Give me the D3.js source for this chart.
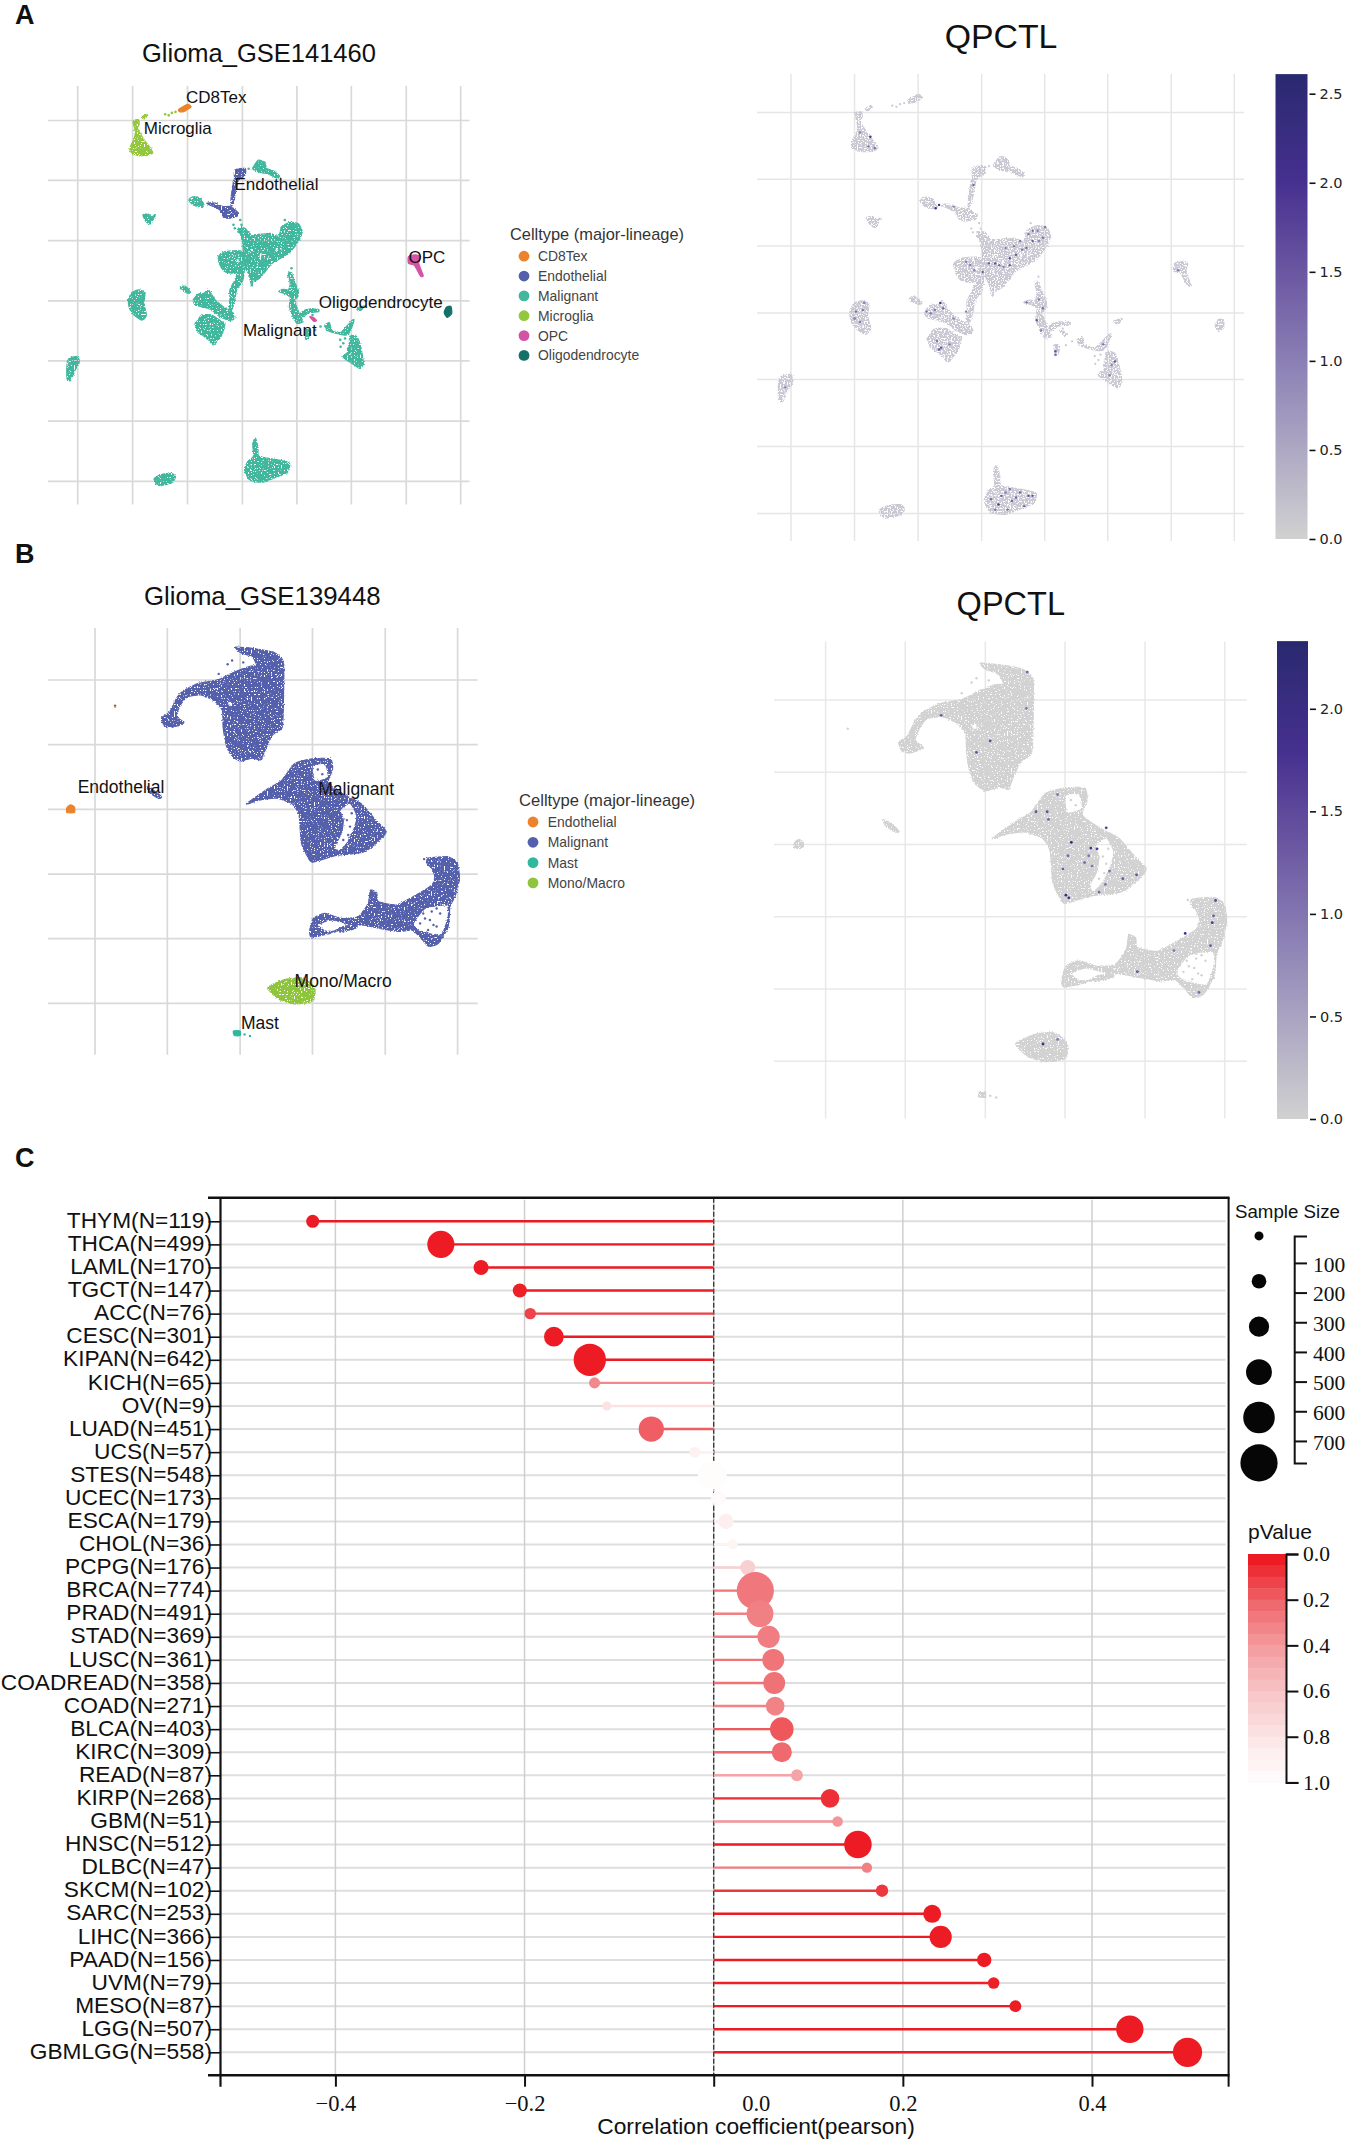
<!DOCTYPE html>
<html>
<head>
<meta charset="utf-8">
<script src="https://cdnjs.cloudflare.com/ajax/libs/d3/7.8.5/d3.min.js"></script>
<style>
body { margin: 0; background: #fff; }
text { font-family: "Liberation Sans", Arial, sans-serif; fill: #111; }
.serif text, text.serif { font-family: "Liberation Serif", "Times New Roman", serif; }
.dv { font-family: "DejaVu Sans", sans-serif; }
</style>
</head>
<body>
<svg id="fig" width="1352" height="2145" xmlns="http://www.w3.org/2000/svg"></svg>
<script>
// ---- panel C values ----
var cancerNames = ['THYM','THCA','LAML','TGCT','ACC','CESC','KIPAN','KICH','OV','LUAD','UCS','STES','UCEC','ESCA','CHOL','PCPG','BRCA','PRAD','STAD','LUSC','COADREAD','COAD','BLCA','KIRC','READ','KIRP','GBM','HNSC','DLBC','SKCM','SARC','LIHC','PAAD','UVM','MESO','LGG','GBMLGG'];
var sampleSizes = [119,499,170,147,76,301,642,65,9,451,57,548,173,179,36,176,774,491,369,361,358,271,403,309,87,268,51,512,47,102,253,366,156,79,87,507,558];
var corrValues = [-0.424,-0.2885,-0.246,-0.205,-0.194,-0.169,-0.131,-0.126,-0.113,-0.066,-0.02,-0.0015,0.005,0.013,0.02,0.036,0.044,0.049,0.058,0.063,0.064,0.065,0.072,0.072,0.088,0.123,0.131,0.1525,0.162,0.178,0.231,0.24,0.286,0.296,0.319,0.44,0.501];
var pValues = [0,0,0,0.01,0.1,0,0,0.31,0.76,0.17,0.88,0.97,0.95,0.86,0.9,0.65,0.25,0.28,0.27,0.24,0.23,0.29,0.15,0.2,0.42,0.05,0.36,0,0.28,0.07,0,0,0,0.01,0.003,0,0];
var corrTicks = [-0.4,-0.2,0,0.2,0.4];
var sizeTicks = [100,200,300,400,500,600,700];
var sizeLegend = [9,162,315,468,621,774];
var pTicks = [0,0.2,0.4,0.6,0.8,1];
var pStops = [0,0.2,0.4,0.6,0.8,1];
var pStopColors = ['#ed1c24','#ee6a6f','#f4a0a3','#f8c8ca','#fce8e9','#ffffff'];

// ---- umap colour bars ----
var exprStops = [0,0.38,0.58,0.77,1];
var exprStopColors = ['#d1d1d1','#8b80b5','#6a55a1','#46308f','#29296f'];
var exprTicksA = [0,0.5,1,1.5,2,2.5];
var exprTicksB = [0,0.5,1,1.5,2];

// ---- GSE141460 embedding, outlines of the cell clouds (arbitrary umap units) ----
var gridXA = [174,297,420,543,665,787,910,1032];
var gridYA = [350,524,699,874,1048,1223,1398];
var malignantA = [
  [[566,489],[579,465],[594,472],[597,489],[612,496],[626,511],[621,518],[601,505],[582,501]],
  [[423,581],[433,571],[448,576],[457,595],[452,602],[433,595]],
  [[320,624],[332,622],[340,630],[348,625],[344,635],[338,650],[328,645]],
  [[534,663],[549,663],[564,682],[605,678],[624,687],[631,658],[650,646],[668,650],[677,673],[668,702],[650,731],[635,745],[609,765],[594,789],[582,808],[567,818],[564,830],[556,794],[545,770],[541,760],[545,726],[541,692]],
  [[489,745],[504,731],[534,728],[544,736],[545,770],[541,779],[526,794],[504,789],[493,770]],
  [[534,789],[547,779],[544,813],[530,842],[526,871],[519,900],[514,900],[515,866],[515,842],[526,813]],
  [[403,834],[414,831],[427,847],[422,852],[409,844]],
  [[433,871],[444,854],[459,852],[467,842],[482,871],[500,891],[523,910],[526,924],[515,931],[493,920],[474,900],[452,891],[437,886]],
  [[441,934],[452,915],[474,915],[497,934],[504,939],[497,973],[478,1002],[467,987],[444,963],[437,939]],
  [[295,850],[310,842],[325,850],[322,880],[328,915],[318,930],[300,915],[290,895],[288,870]],
  [[155,1040],[175,1035],[177,1055],[168,1075],[158,1105],[150,1100],[150,1060]],
  [[646,794],[653,792],[659,818],[668,842],[667,862],[659,871],[663,886],[673,920],[679,934],[665,939],[653,910],[648,891],[650,862],[638,852],[624,847],[635,840],[646,842],[650,823]],
  [[673,910],[687,898],[713,898],[713,905],[691,908],[679,920]],
  [[683,963],[688,956],[694,963],[691,982],[685,985]],
  [[728,944],[738,937],[743,958],[762,966],[773,953],[790,929],[793,931],[784,963],[773,973],[747,966],[732,958]],
  [[784,976],[799,978],[808,1007],[814,1055],[806,1070],[788,1055],[768,1036],[780,1021]],
  [[799,895],[815,889],[810,900],[803,902]],
  [[566,1290],[572,1272],[578,1300],[580,1325],[620,1335],[648,1345],[645,1370],[620,1385],[590,1400],[560,1395],[548,1365],[555,1340],[568,1325]],
  [[345,1390],[360,1378],[385,1375],[393,1385],[385,1402],[360,1410],[350,1405]]
];
var malignantHolesA = [
  [[582,735],[588,735],[585,748],[580,746]],
  [[616,720],[622,718],[623,726],[618,730]],
  [[563,722],[568,722],[567,732],[563,732]],
  [[599,742],[603,742],[602,751],[599,751]],
  [[630,718],[634,720],[632,730],[629,727]],
  [[529,752],[536,752],[535,765],[529,762]]
];
var endothelialA = [
  [[526,494],[549,489],[549,508],[534,523],[526,523]],
  [[524,523],[532,523],[524,581],[521,595],[517,595],[519,561]],
  [[463,590],[482,590],[500,600],[517,600],[534,619],[530,629],[511,634],[500,629],[493,610],[478,600]]
];
var microgliaA = [
  [[298,350],[310,348],[312,360],[308,372],[315,390],[325,410],[337,430],[342,445],[325,452],[305,450],[292,440],[292,425],[300,405],[303,385],[300,365]],
  [[318,340],[328,332],[331,337],[322,345]]
];
var cd8texA = [[[400,318],[420,303],[428,310],[415,322],[403,325]]];
var opcA = [
  [[915,745],[930,740],[942,745],[938,765],[948,800],[942,802],[928,770],[915,765]],
  [[694,920],[702,922],[709,931],[703,933]]
];
var oligoA = [[[1000,892],[1010,890],[1012,910],[1002,922],[995,908]]];
var malignantDotsA = [[523,653],[526,663],[538,639],[541,653],[534,673],[638,639],[653,779],[564,828],[632,842],[762,987],[769,997],[773,983],[763,1007],[780,1012],[735,950],[700,915],[557,490],[570,1285],[345,628],[718,948],[706,958]];
var microgliaDotsA = [[370,332],[378,335],[385,328],[393,325]];

// ---- GSE139448 embedding ----
var gridXB = [213,375,538,700,863,1025];
var gridYB = [366,535,704,873,1042,1211];
var malignantB = [
  [[528,280],[575,285],[615,295],[635,320],[635,420],[632,490],[610,510],[590,560],[585,575],[565,570],[540,578],[520,565],[508,540],[500,490],[498,445],[480,420],[450,405],[420,410],[405,430],[395,460],[412,478],[385,490],[368,485],[362,465],[380,450],[395,415],[410,395],[445,375],[490,365],[525,345],[560,330],[575,328],[565,305],[540,295]],
  [[552,690],[600,650],[630,630],[660,585],[700,572],[740,572],[745,600],[735,635],[770,665],[810,690],[840,730],[865,762],[845,790],[815,815],[770,822],[750,825],[700,842],[688,825],[675,790],[670,720],[655,690],[620,675],[580,680]],
  [[959,832],[1004,828],[1024,845],[1029,884],[1019,932],[1008,958],[1004,1010],[982,1054],[959,1061],[941,1037],[922,1019],[896,1023],[851,1015],[810,1006],[769,1010],[739,1028],[698,1037],[694,1019],[702,989],[728,976],[765,989],[803,984],[825,949],[830,915],[844,923],[847,945],[888,954],[926,932],[967,902],[974,880],[967,858],[956,845]]
];
var malignantHolesB = [
  [[700,590],[728,585],[735,620],[705,630]],
  [[762,706],[784,688],[799,719],[795,749],[777,793],[758,814],[750,801],[765,766],[769,732]],
  [[713,1006],[743,993],[799,1010],[784,1019],[735,1023],[724,1019]],
  [[926,1002],[952,963],[1000,954],[1004,984],[989,1032],[959,1028],[937,1019]],
  [[510,424],[520,422],[521,434],[512,434]]
];
var endothelialStripB = [[[330,645],[345,655],[362,672],[355,675],[335,660]]];
var endothelialB = [[[150,700],[158,692],[167,698],[167,712],[150,712]]];
var monoB = [[[600,1170],[640,1148],[680,1145],[705,1170],[700,1205],[660,1212],[625,1200]]];
var mastB = [[[523,1283],[538,1283],[538,1295],[525,1295]]];
var malignantDotsB = [[258,433],[520,315],[545,320],[510,325],[490,350],[555,345],[950,834],[941,1002],[952,989],[963,993],[971,1006],[959,1019],[978,1010],[948,976],[986,976],[967,971],[978,963],[750,1023],[762,1023],[769,1023],[777,732],[784,749],[769,784],[773,801],[788,714],[780,771],[712,600],[722,612]];
var mastDotsB = [[548,1292],[560,1296]];
var endoDotsB = [[258,436]];

// ---- cells with visible QPCTL, [x, y, expression] ----
var exprGridXA = [219,372,524,676,828,980,1132,1285];
var exprGridYA = [327,521,714,909,1103,1297,1491];
var exprCellsA = [[410,397,2],[420,430,1.3],[385,385,1],[405,425,1.2],[658,537,1.3],[575,595,2],[567,605,2],[610,600,1],[790,680,1.2],[800,700,1.4],[812,670,1],[830,660,1.2],[825,690,1.3],[785,720,1.2],[760,740,1.4],[745,750,1.6],[735,720,1],[775,725,1.2],[710,765,1.6],[695,765,1.5],[680,790,1.3],[720,770,1.2],[745,770,1.4],[770,700,1.1],[800,670,1.3],[815,700,1],[755,715,1.1],[730,775,1],[640,760,1],[650,770,1.1],[660,785,1],[578,880,1.9],[585,895,1.3],[545,905,1.2],[555,910,1.2],[565,900,1.1],[610,925,1],[580,1010,1.5],[575,1015,1.5],[600,1000,1],[570,990,1.1],[640,905,1],[375,905,1.2],[392,900,1.1],[385,935,1],[395,880,1],[372,925,1.1],[815,870,1],[825,895,1.2],[810,930,1.5],[820,960,1],[855,1020,1.6],[855,1030,1.3],[785,878,1.2],[970,1000,1.2],[998,1050,1.5],[990,1060,1],[985,1090,1],[718,1465,2],[790,1440,1.6],[770,1430,1.4],[745,1420,1.2],[725,1440,1.5],[700,1450,1.2],[750,1455,1.4],[780,1470,1.3],[740,1480,1.2],[800,1440,1.5],[760,1445,1.3],[710,1480,1.2],[735,1430,1.1],[1150,785,1.1],[205,1125,1]];
var exprGridXB = [302,494,686,878,1070,1262];
var exprGridYB = [418,606,795,985,1173,1362];
var exprCellsB = [[787,345,1.2],[785,440,1],[580,458,1.3],[698,525,1.5],[665,555,1.4],[893,790,2.2],[940,805,1.8],[955,807,1.7],[977,752,1.6],[808,710,1.4],[835,710,1.4],[838,730,1.2],[860,665,1],[1050,875,1.4],[1017,885,1.3],[985,865,1.1],[880,928,2],[887,935,2],[975,900,1],[960,920,1.2],[873,860,1.3],[885,825,1.1],[925,843,1.2],[943,852,1],[935,825,1],[1240,942,1.5],[1235,982,1.3],[1232,1000,1.7],[1167,1028,1.9],[1228,1060,1.3],[1140,1073,1],[1052,1128,1.4],[1200,1182,1.2],[825,1317,2],[860,1305,1]];

// ---- legends ----
var celltypesA = ['CD8Tex','Endothelial','Malignant','Microglia','OPC','Oligodendrocyte'];
var celltypeColorsA = ['#ea8329','#5560ad','#41b89e','#93c83d','#d353a5','#15706a'];
var celltypesB = ['Endothelial','Malignant','Mast','Mono/Macro'];
var celltypeColorsB = ['#ea8329','#5560ad','#2fb89c','#8fc53d'];

var svg = d3.select('#fig');
var defs = svg.append('defs');

// rough edge and small gaps of the cloud outlines, so they read as packed dots
function addStipple(id, cut) {
    var f = defs.append('filter').attr('id', id).attr('x', '-5%').attr('y', '-5%')
        .attr('width', '110%').attr('height', '110%')
        .attr('color-interpolation-filters', 'sRGB');
    f.append('feTurbulence').attr('type', 'fractalNoise').attr('baseFrequency', 0.7)
        .attr('numOctaves', 1).attr('seed', 4).attr('result', 'n');
    f.append('feDisplacementMap').attr('in', 'SourceGraphic').attr('in2', 'n')
        .attr('scale', 3).attr('xChannelSelector', 'R').attr('yChannelSelector', 'G').attr('result', 'd');
    f.append('feColorMatrix').attr('in', 'n').attr('type', 'matrix')
        .attr('values', '0 0 0 0 0 0 0 0 0 0 0 0 0 0 0 0 0 0 -14 ' + (14 * cut)).attr('result', 'm');
    f.append('feComposite').attr('in', 'd').attr('in2', 'm').attr('operator', 'in');
}
addStipple('stippleDense', 0.68);
addStipple('stippleLight', 0.6);

function gridScale(ticks, px0, px1) {
    return d3.scaleLinear().domain([ticks[0], ticks[ticks.length - 1]]).range([px0, px1]);
}

function drawGrid(g, x, y, xTicks, yTicks, xr, yr, color, w) {
    g.selectAll('line.v').data(xTicks).enter().append('line').attr('class', 'v')
        .attr('x1', x).attr('x2', x).attr('y1', yr[0]).attr('y2', yr[1]);
    g.selectAll('line.h').data(yTicks).enter().append('line').attr('class', 'h')
        .attr('x1', xr[0]).attr('x2', xr[1]).attr('y1', y).attr('y2', y);
    g.selectAll('line').attr('stroke', color).attr('stroke-width', w);
}

// solids wind one way and holes the other, so overlapping solids stay filled
function orient(ring, sign) {
    return d3.polygonArea(ring) * sign < 0 ? ring.slice().reverse() : ring;
}

function drawClouds(g, x, y, rings, color, filter, holes) {
    var line = d3.line().x(function (d) { return x(d[0]); }).y(function (d) { return y(d[1]); })
        .curve(d3.curveCardinalClosed.tension(0.4));
    var parts = rings.map(function (r) { return line(orient(r, 1)); })
        .concat((holes || []).map(function (r) { return line(orient(r, -1)); }));
    g.append('path')
        .attr('d', parts.join(' '))
        .attr('fill', color).attr('fill-rule', 'nonzero')
        .attr('stroke', color).attr('stroke-width', 1.2)
        .attr('filter', filter ? 'url(#' + filter + ')' : null);
}

function drawDots(g, x, y, pts, color, r) {
    g.selectAll(null).data(pts).enter().append('circle')
        .attr('cx', function (d) { return x(d[0]); })
        .attr('cy', function (d) { return y(d[1]); })
        .attr('r', r)
        .attr('fill', typeof color === 'function' ? function (d) { return color(d[2]); } : color);
}

function drawTitle(txt, x, y, size, cls) {
    svg.append('text').attr('x', x).attr('y', y).attr('font-size', size)
        .attr('class', cls || null).text(txt);
}

function drawLegend(names, colors, title, titleSize, tx, ty, cx, lx, ys) {
    var g = svg.append('g');
    g.append('text').attr('x', tx).attr('y', ty).attr('font-size', titleSize).style('fill', '#333').text(title);
    g.selectAll('circle').data(names).enter().append('circle')
        .attr('cx', cx).attr('cy', function (d, i) { return ys(i); }).attr('r', 5.4)
        .attr('fill', function (d, i) { return colors[i]; });
    g.selectAll('text.item').data(names).enter().append('text').attr('class', 'item')
        .attr('x', lx).attr('y', function (d, i) { return ys(i) + 5; })
        .attr('font-size', 13.9).style('fill', '#444').text(function (d) { return d; });
}

var exprColor = d3.scaleLinear().domain(exprStops).range(exprStopColors);

function drawExprBar(id, x0, x1, y, top, ticks) {
    var grad = defs.append('linearGradient').attr('id', id).attr('x1', 0).attr('x2', 0).attr('y1', 1).attr('y2', 0);
    grad.selectAll('stop').data(exprStops).enter().append('stop')
        .attr('offset', function (d) { return d; })
        .attr('stop-color', function (d, i) { return exprStopColors[i]; });
    svg.append('rect').attr('x', x0).attr('width', x1 - x0).attr('y', y(top))
        .attr('height', y(0) - y(top)).attr('fill', 'url(#' + id + ')');
    var ax = svg.append('g').attr('transform', 'translate(' + x1 + ',0)')
        .call(d3.axisRight(y).tickValues(ticks).tickSize(7).tickPadding(5).tickFormat(d3.format('.1f')));
    ax.select('.domain').remove();
    ax.selectAll('.tick line').attr('x1', 2).attr('x2', 8).attr('stroke', '#111').attr('stroke-width', 1.6);
    ax.selectAll('text').attr('class', 'dv').attr('font-size', 14.5).attr('font-family', 'DejaVu Sans').style('fill', '#222');
}

// panel letters
drawTitle('A', 15, 24, 27);
drawTitle('B', 15, 563, 27);
drawTitle('C', 15, 1167, 27);
svg.selectAll('text').attr('font-weight', 'bold');

// ---- panel A ----
var ax1 = gridScale(gridXA, 77.7, 460.7), ay1 = gridScale(gridYA, 120.5, 481.4);
var gA1 = svg.append('g');
drawGrid(gA1.append('g'), ax1, ay1, gridXA, gridYA, [48, 469.6], [86, 504.5], '#d9d9d9', 1.7);
var cloudsA1 = gA1.append('g');
drawClouds(cloudsA1, ax1, ay1, malignantA, celltypeColorsA[2], 'stippleDense', malignantHolesA);
drawClouds(cloudsA1, ax1, ay1, endothelialA, celltypeColorsA[1], 'stippleDense');
drawClouds(cloudsA1, ax1, ay1, microgliaA, celltypeColorsA[3], 'stippleDense');
drawClouds(cloudsA1, ax1, ay1, cd8texA, celltypeColorsA[0]);
drawClouds(cloudsA1, ax1, ay1, opcA, celltypeColorsA[4]);
drawClouds(cloudsA1, ax1, ay1, oligoA, celltypeColorsA[5]);
drawDots(cloudsA1, ax1, ay1, malignantDotsA, celltypeColorsA[2], 1.3);
drawDots(cloudsA1, ax1, ay1, microgliaDotsA, celltypeColorsA[3], 1.3);

var labelsA = [['CD8Tex',186,103],['Microglia',143.8,133.6],['Endothelial',234.4,190.4],['OPC',408.5,263.4],['Oligodendrocyte',318.8,307.5],['Malignant',242.9,335.7]];
labelsA.forEach(function (l) { drawTitle(l[0], l[1], l[2], 17); });
drawTitle('Glioma_GSE141460', 142, 62, 25.5);
drawLegend(celltypesA, celltypeColorsA, 'Celltype (major-lineage)', 16.4, 510, 240, 524, 538,
    d3.scaleLinear().domain([0, 5]).range([256.2, 355.4]));

var ax2 = gridScale(gridXA, 791, 1234.3), ay2 = gridScale(gridYA, 112.6, 513.4);
var gA2 = svg.append('g');
drawGrid(gA2.append('g'), ax2, ay2, gridXA, gridYA, [757, 1243.9], [74, 541], '#e6e6e6', 1.5);
drawClouds(gA2, ax2, ay2, malignantA, '#c9c8d3', 'stippleLight', malignantHolesA);
[endothelialA, microgliaA, cd8texA, opcA, oligoA].forEach(function (rings) {
    drawClouds(gA2, ax2, ay2, rings, '#c9c8d3', 'stippleLight');
});
drawDots(gA2, ax2, ay2, malignantDotsA.concat(microgliaDotsA), '#c9c8d3', 1.1);
drawDots(gA2, gridScale(exprGridXA, 791, 1234.3), gridScale(exprGridYA, 112.6, 513.4), exprCellsA,
    function (v) { return exprColor(v / 2.6); }, 1.2);
svg.append('text').attr('x', 1001).attr('y', 48).attr('text-anchor', 'middle')
    .attr('font-size', 33.8).attr('font-family', 'DejaVu Sans').text('QPCTL');
drawExprBar('barA', 1275.5, 1307.5, d3.scaleLinear().domain([0, 2.5]).range([539, 93.7]), 2.61, exprTicksA);

// ---- panel B ----
var bx1 = gridScale(gridXB, 95, 457.6), by1 = gridScale(gridYB, 680, 1003.4);
var gB1 = svg.append('g');
drawGrid(gB1.append('g'), bx1, by1, gridXB, gridYB, [48, 477.7], [628, 1054.7], '#d9d9d9', 1.7);
var cloudsB1 = gB1.append('g');
drawClouds(cloudsB1, bx1, by1, malignantB.concat(endothelialStripB), celltypeColorsB[1], 'stippleDense', malignantHolesB);
drawClouds(cloudsB1, bx1, by1, monoB, celltypeColorsB[3], 'stippleDense');
drawClouds(cloudsB1, bx1, by1, mastB, celltypeColorsB[2]);
drawClouds(cloudsB1, bx1, by1, endothelialB, celltypeColorsB[0]);
drawDots(cloudsB1, bx1, by1, malignantDotsB, celltypeColorsB[1], 1.2);
drawDots(cloudsB1, bx1, by1, mastDotsB, celltypeColorsB[2], 1.2);
drawDots(cloudsB1, bx1, by1, endoDotsB, celltypeColorsB[0], 1.1);

var labelsB = [['Endothelial',77.7,792.6],['Malignant',318.3,794.9],['Mono/Macro',294.6,986.6],['Mast',241,1029]];
labelsB.forEach(function (l) { drawTitle(l[0], l[1], l[2], 17.5); });
drawTitle('Glioma_GSE139448', 144, 605, 25.8);
drawLegend(celltypesB, celltypeColorsB, 'Celltype (major-lineage)', 16.6, 519, 806, 533, 547.8,
    d3.scaleLinear().domain([0, 3]).range([822, 882.9]));

var bx2 = gridScale(gridXB, 825.6, 1224.7), by2 = gridScale(gridYB, 700, 1061.2);
var gB2 = svg.append('g');
drawGrid(gB2.append('g'), bx2, by2, gridXB, gridYB, [774, 1246.8], [641.4, 1118.6], '#e8e8e8', 1.5);
drawClouds(gB2, bx2, by2, malignantB.concat(endothelialStripB), '#d2d2d2', 'stippleDense', malignantHolesB);
[monoB, mastB, endothelialB].forEach(function (rings) {
    drawClouds(gB2, bx2, by2, rings, '#d2d2d2', 'stippleDense');
});
drawDots(gB2, bx2, by2, malignantDotsB.concat(mastDotsB), '#d2d2d2', 1.2);
drawDots(gB2, gridScale(exprGridXB, 825.6, 1224.7), gridScale(exprGridYB, 700, 1061.2), exprCellsB,
    function (v) { return exprColor(v / 2.33); }, 1.4);
svg.append('text').attr('x', 1010.8).attr('y', 614.6).attr('text-anchor', 'middle')
    .attr('font-size', 32.5).attr('font-family', 'DejaVu Sans').text('QPCTL');
drawExprBar('barB', 1277, 1308, d3.scaleLinear().domain([0, 2]).range([1119, 708.8]), 2.33, exprTicksB);

// ---- panel C ----
var rows = cancerNames.map(function (n, i) {
    return { label: n + '(N=' + sampleSizes[i] + ')', n: sampleSizes[i], r: corrValues[i], p: pValues[i] };
});
var xC = d3.scaleLinear().domain([-0.4, 0.4]).range([335.4, 1092]);
var yC = d3.scalePoint().domain(rows.map(function (d) { return d.label; })).range([1221.3, 2052.3]);
var sizeC = d3.scaleLinear().domain([9, 774]).range([4.5, 18.6]);
var pColor = d3.scaleLinear().domain(pStops).range(pStopColors);
var frame = { left: 220.5, right: 1228.6, top: 1197.7, bottom: 2075.3 };
var gC = svg.append('g');

gC.selectAll('line.hg').data(rows).enter().append('line').attr('class', 'hg')
    .attr('x1', frame.left).attr('x2', 1225.6)
    .attr('y1', function (d) { return yC(d.label); }).attr('y2', function (d) { return yC(d.label); })
    .attr('stroke', '#dedede').attr('stroke-width', 2);
gC.selectAll('line.vg').data(corrTicks).enter().append('line').attr('class', 'vg')
    .attr('x1', xC).attr('x2', xC).attr('y1', frame.top + 2).attr('y2', frame.bottom)
    .attr('stroke', '#cfcfcf').attr('stroke-width', 1.5);
gC.append('line').attr('x1', xC(0)).attr('x2', xC(0)).attr('y1', frame.top).attr('y2', frame.bottom)
    .attr('stroke', '#333').attr('stroke-width', 1.3).attr('stroke-dasharray', '5 2');
gC.selectAll('line.stem').data(rows).enter().append('line').attr('class', 'stem')
    .attr('x1', xC(0)).attr('x2', function (d) { return xC(d.r); })
    .attr('y1', function (d) { return yC(d.label); }).attr('y2', function (d) { return yC(d.label); })
    .attr('stroke', function (d) { return pColor(d.p); }).attr('stroke-width', 2.4);
gC.selectAll('circle.pt').data(rows).enter().append('circle').attr('class', 'pt')
    .attr('cx', function (d) { return xC(d.r); }).attr('cy', function (d) { return yC(d.label); })
    .attr('r', function (d) { return sizeC(d.n); })
    .attr('fill', function (d) { return pColor(d.p); });

// frame
gC.append('line').attr('x1', 208).attr('x2', frame.right + 1).attr('y1', frame.top).attr('y2', frame.top).attr('stroke', '#111').attr('stroke-width', 2.4);
gC.append('line').attr('x1', frame.right).attr('x2', frame.right).attr('y1', frame.top).attr('y2', frame.bottom).attr('stroke', '#111').attr('stroke-width', 2);

var axisLeft = gC.append('g').attr('transform', 'translate(' + frame.left + ',0)')
    .call(d3.axisLeft(yC).tickSizeInner(12).tickSizeOuter(0).tickPadding(-3.5));
axisLeft.select('.domain').attr('d', 'M0,' + frame.top + 'V' + (frame.bottom + 11.4)).attr('stroke', '#111').attr('stroke-width', 2.2);
axisLeft.selectAll('.tick line').attr('stroke', '#111').attr('stroke-width', 1.6);
axisLeft.selectAll('text').attr('font-size', 22.7).attr('dy', '0.27em').attr('font-family', 'Liberation Sans').style('fill', '#111');

var axisBottom = gC.append('g').attr('class', 'serif').attr('transform', 'translate(0,' + frame.bottom + ')')
    .call(d3.axisBottom(xC).tickValues(corrTicks).tickSize(11.4).tickPadding(8).tickFormat(d3.format('.1f')));
axisBottom.select('.domain').remove();
axisBottom.append('line').attr('x1', 208).attr('x2', frame.right + 1).attr('stroke', '#111').attr('stroke-width', 2.4);
axisBottom.append('line').attr('x1', frame.right).attr('x2', frame.right).attr('y2', 11.4).attr('stroke', '#111').attr('stroke-width', 2);
axisBottom.selectAll('.tick line').attr('stroke', '#111').attr('stroke-width', 2);
axisBottom.selectAll('text').attr('font-size', 22.5).attr('font-family', 'Liberation Serif').style('fill', '#111')
    .attr('dx', function (d) { return d === 0 ? 42 : 0; });

svg.append('text').attr('x', 756).attr('y', 2134).attr('text-anchor', 'middle')
    .attr('font-size', 22.8).text('Correlation coefficient(pearson)');

// size legend
svg.append('text').attr('x', 1235).attr('y', 1217.6).attr('font-size', 18.7).text('Sample Size');
var ySize = d3.scaleLinear().domain([9, 774]).range([1235.9, 1462.9]);
svg.append('g').selectAll('circle').data(sizeLegend).enter().append('circle')
    .attr('cx', 1259).attr('cy', ySize).attr('r', sizeC).attr('fill', '#060606');
var axisSize = svg.append('g').attr('class', 'serif').attr('transform', 'translate(1294.2,0)')
    .call(d3.axisRight(ySize).tickValues(sizeTicks).tickSize(12.8).tickPadding(6));
axisSize.selectAll('path,line').attr('stroke', '#111').attr('stroke-width', 2);
axisSize.selectAll('text').attr('font-size', 21.5).attr('dy', '0.38em').attr('font-family', 'Liberation Serif').style('fill', '#111');

// p value legend
svg.append('text').attr('x', 1248).attr('y', 1539).attr('font-size', 21).text('pValue');
var yP = d3.scaleLinear().domain([0, 1]).range([1554, 1782.4]);
svg.append('g').selectAll('rect').data(d3.range(0, 1, 0.05)).enter().append('rect')
    .attr('x', 1248).attr('width', 38).attr('y', yP)
    .attr('height', function () { return yP(0.05) - yP(0) + 0.5; })
    .attr('fill', function (d) { return pColor(d); });
var axisP = svg.append('g').attr('class', 'serif').attr('transform', 'translate(1286,0)')
    .call(d3.axisRight(yP).tickValues(pTicks).tickSize(12.4).tickPadding(4.6).tickFormat(d3.format('.1f')));
axisP.selectAll('path,line').attr('stroke', '#111').attr('stroke-width', 2);
axisP.selectAll('text').attr('font-size', 21.5).attr('font-family', 'Liberation Serif').style('fill', '#111');
</script>
</body>
</html>
